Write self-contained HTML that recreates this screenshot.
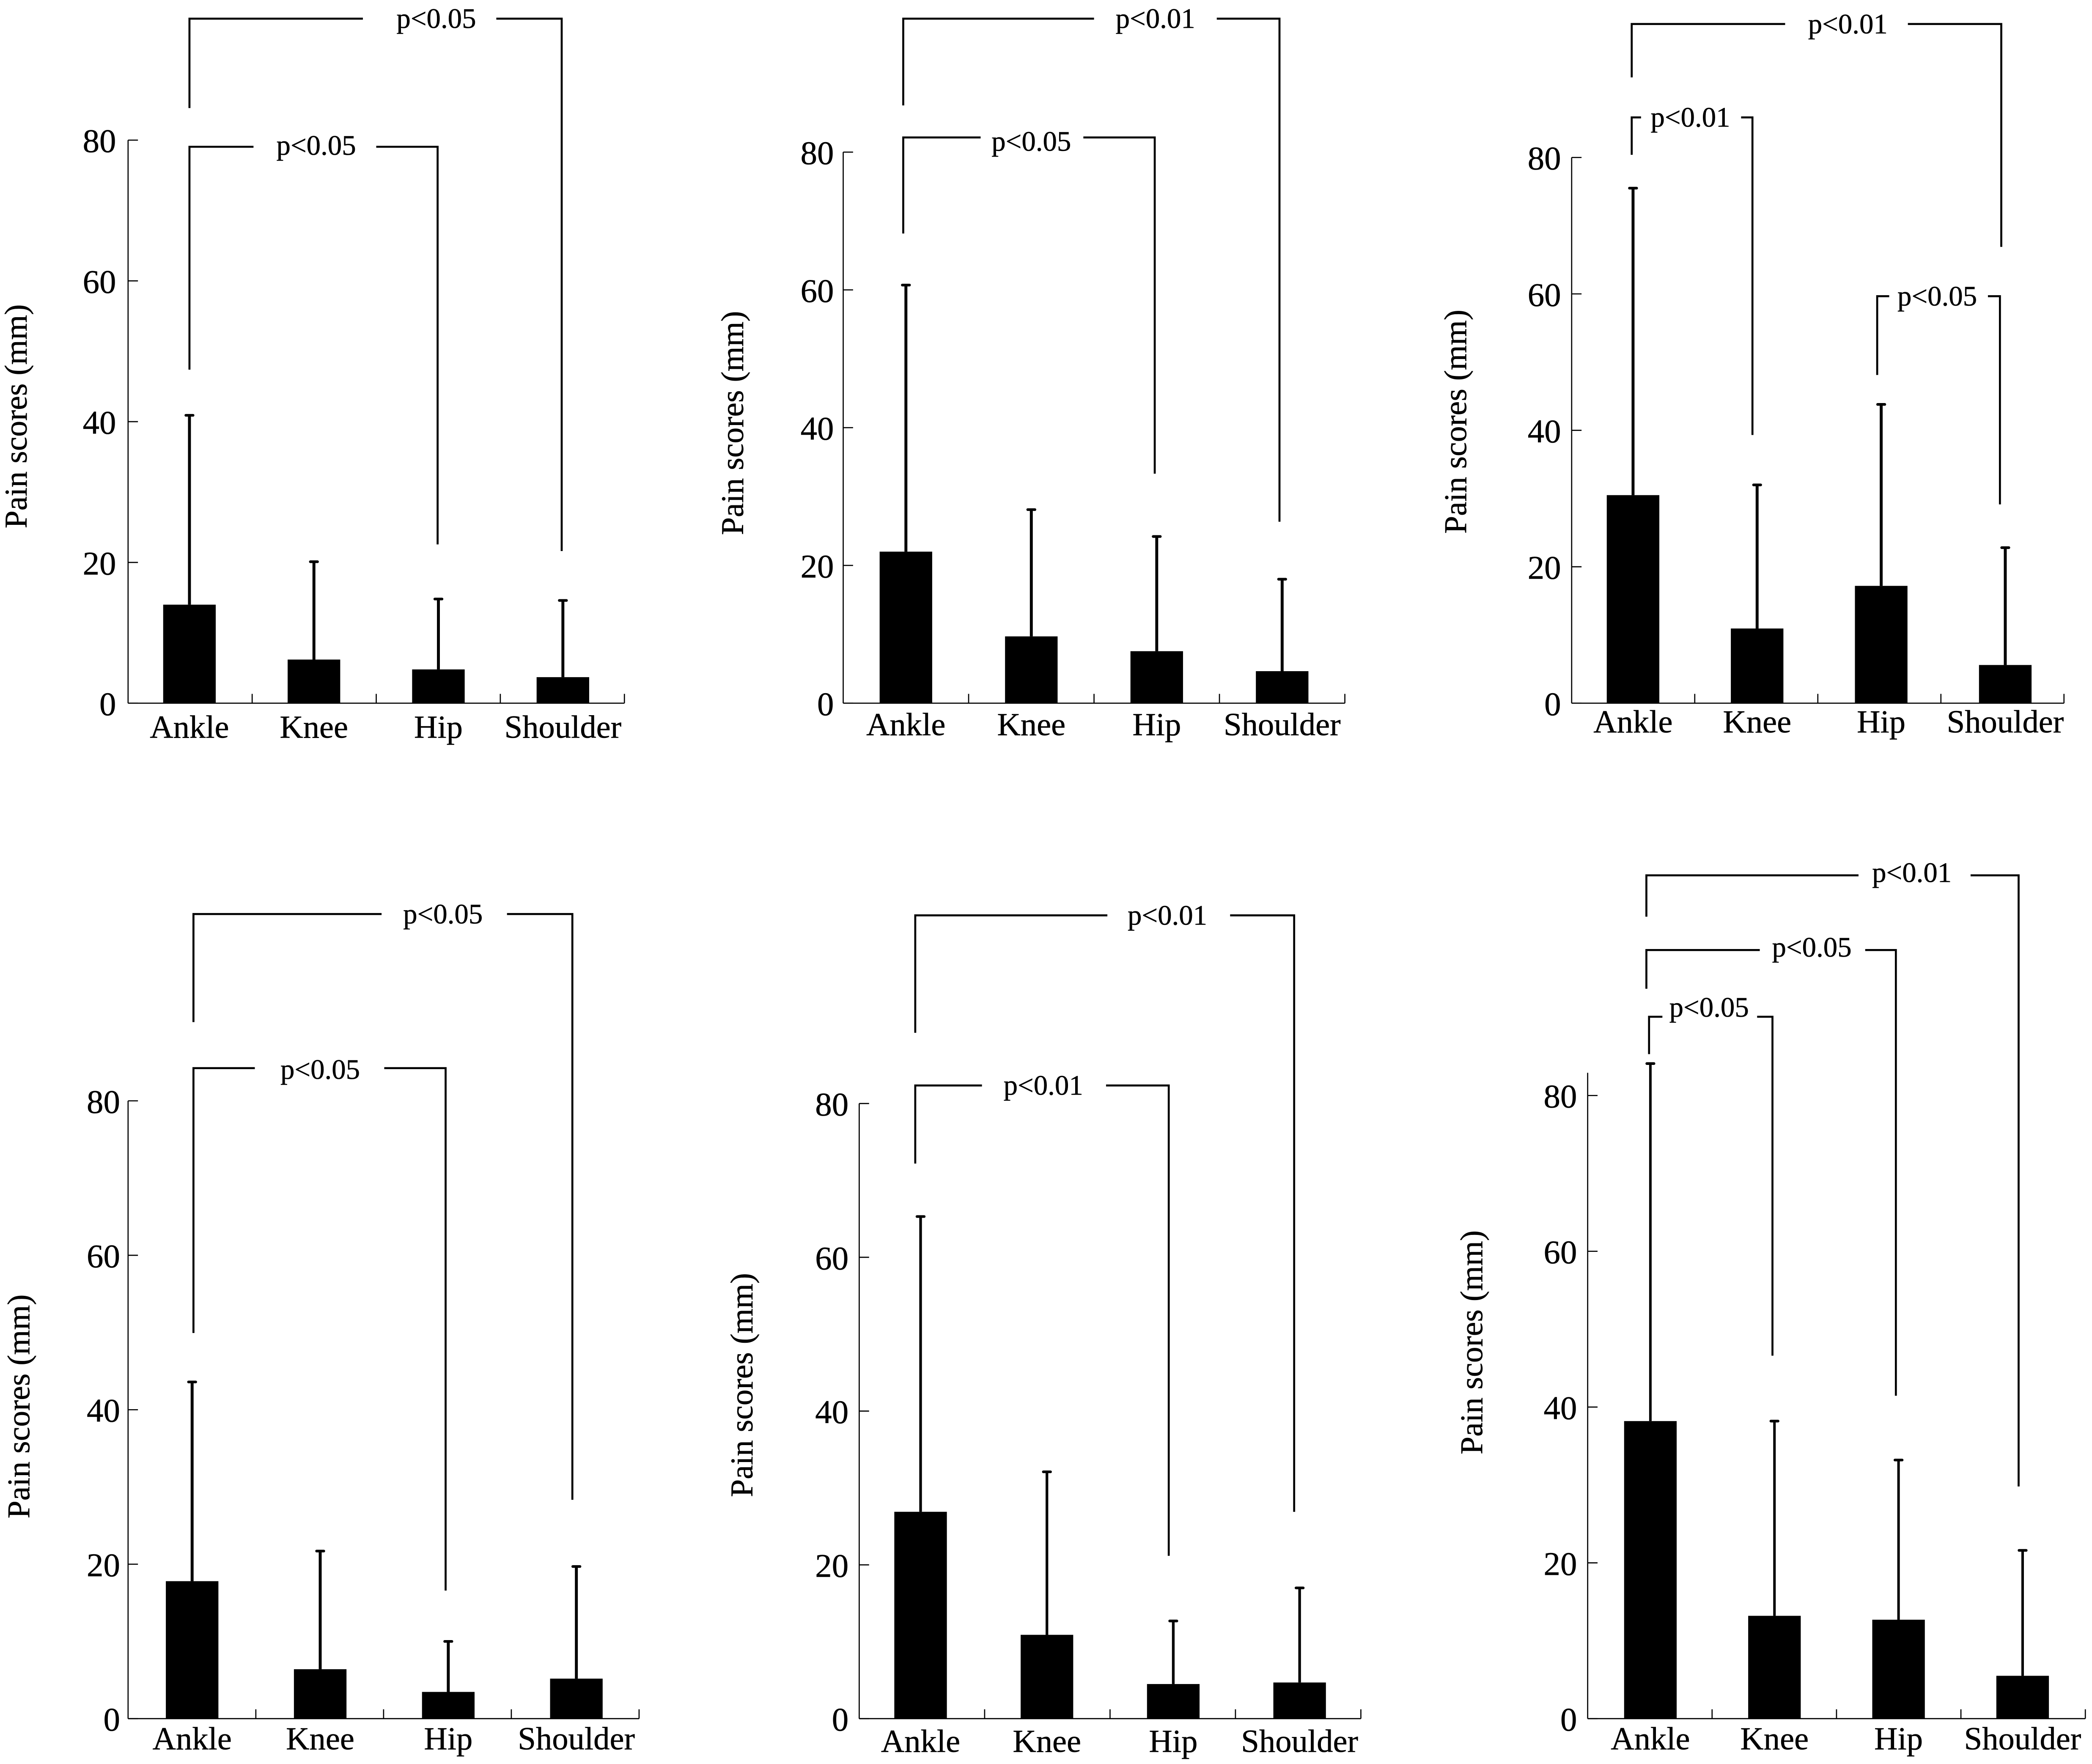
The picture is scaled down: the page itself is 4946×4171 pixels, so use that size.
<!DOCTYPE html>
<html lang="en">
<head>
<meta charset="utf-8">
<title>Pain scores by joint</title>
<style>
html,body{margin:0;padding:0;background:#fff;}
svg{display:block;}
text{font-family:"Liberation Serif",serif;fill:#000;stroke:#000;stroke-width:0.18;}
</style>
</head>
<body>
<svg id="figure" xmlns="http://www.w3.org/2000/svg" width="4946" height="4171" viewBox="0 0 1568 1322" preserveAspectRatio="none">
<rect width="1568" height="1322" fill="#fff"></rect>
</svg>
<script>
const categories = ["Ankle", "Knee", "Hip", "Shoulder"];
const yTickLabels = [0, 20, 40, 60, 80];

const panel1Means = [14.0, 6.2, 4.8, 3.7];
const panel1ErrorTops = [40.9, 20.1, 14.8, 14.6];
const panel2Means = [22.0, 9.7, 7.55, 4.65];
const panel2ErrorTops = [60.7, 28.1, 24.2, 18.0];
const panel3Means = [30.5, 10.95, 17.2, 5.6];
const panel3ErrorTops = [75.5, 32.0, 43.8, 22.8];
const panel4Means = [17.8, 6.4, 3.46, 5.18];
const panel4ErrorTops = [43.6, 21.7, 10.0, 19.7];
const panel5Means = [26.9, 10.9, 4.5, 4.7];
const panel5ErrorTops = [65.3, 32.1, 12.7, 17.0];
const panel6Means = [38.2, 13.2, 12.7, 5.5];
const panel6ErrorTops = [84.1, 38.2, 33.2, 21.6];

const panelMeans = [panel1Means, panel2Means, panel3Means, panel4Means, panel5Means, panel6Means];
const panelErrorTops = [panel1ErrorTops, panel2ErrorTops, panel3ErrorTops, panel4ErrorTops, panel5ErrorTops, panel6ErrorTops];

/* Frame of each panel: axis extents, first bar centre, and title placement */
const panelFrames = [
  {x0:96,  x1:468,  y0:527,  y80:105, top:105, first:142,  step:93.3, labelY:553,  tickRight:87,   titleX:20,   titleY:312,  stem:2.2},
  {x0:632, x1:1008, y0:527,  y80:114, top:114, first:679,  step:94,   labelY:551,  tickRight:625,  titleX:557,  titleY:317,  stem:2.2},
  {x0:1178,x1:1547, y0:527,  y80:118, top:118, first:1224, step:93,   labelY:549,  tickRight:1170, titleX:1099, titleY:316,  stem:2.2},
  {x0:96,  x1:479,  y0:1288, y80:825, top:825, first:144,  step:96,   labelY:1311, tickRight:90,   titleX:22,   titleY:1054, stem:2.2},
  {x0:644, x1:1020, y0:1288, y80:827, top:827, first:690,  step:94.7, labelY:1313, tickRight:636,  titleX:564,  titleY:1038, stem:2.0},
  {x0:1190,x1:1563, y0:1288, y80:821, top:804, first:1237, step:93,   labelY:1311, tickRight:1182, titleX:1111, titleY:1006, stem:1.9}
];

/* Significance brackets (annotation geometry, not data) */
const panelBrackets = [
  [
    {text:"p<0.05", xL:142, xR:421, y:14, bL:81, bR:413, gapL:272, gapR:372, tx:327, dy:7},
    {text:"p<0.05", xL:142, xR:328, y:110, bL:277, bR:408, gapL:190, gapR:282, tx:237, dy:6}
  ],
  [
    {text:"p<0.01", xL:677, xR:959, y:14, bL:79, bR:391, gapL:820, gapR:912, tx:866, dy:7},
    {text:"p<0.05", xL:677, xR:865.5, y:103, bL:175, bR:355, gapL:735, gapR:812, tx:773, dy:10}
  ],
  [
    {text:"p<0.01", xL:1223, xR:1500, y:18, bL:58, bR:185, gapL:1338, gapR:1430, tx:1385, dy:7},
    {text:"p<0.01", xL:1223, xR:1313.5, y:88, bL:116, bR:326, gapL:1230, gapR:1305, tx:1267, dy:7},
    {text:"p<0.05", xL:1407, xR:1499, y:222, bL:281, bR:378, gapL:1416, gapR:1490, tx:1452, dy:7}
  ],
  [
    {text:"p<0.05", xL:145, xR:429, y:685, bL:766, bR:1124, gapL:286, gapR:380, tx:332, dy:7},
    {text:"p<0.05", xL:145, xR:334, y:800.5, bL:999, bR:1192, gapL:191, gapR:288, tx:240, dy:8}
  ],
  [
    {text:"p<0.01", xL:686, xR:970, y:686, bL:774, bR:1133, gapL:830, gapR:922, tx:875, dy:7},
    {text:"p<0.01", xL:686, xR:876, y:813.5, bL:872, bR:1166, gapL:736, gapR:829, tx:782, dy:7}
  ],
  [
    {text:"p<0.01", xL:1234, xR:1513, y:656, bL:687, bR:1114, gapL:1393, gapR:1477, tx:1433, dy:5},
    {text:"p<0.05", xL:1234, xR:1421, y:712, bL:741, bR:1046, gapL:1319, gapR:1398, tx:1358, dy:5},
    {text:"p<0.05", xL:1236, xR:1328.5, y:762, bL:790, bR:1016, gapL:1246, gapR:1317, tx:1281, dy:0}
  ]
];

const SVG_NS = "http://www.w3.org/2000/svg";
const root = document.getElementById("figure");

function line(parent, x1, y1, x2, y2, width) {
  const el = document.createElementNS(SVG_NS, "line");
  el.setAttribute("x1", x1);
  el.setAttribute("y1", y1);
  el.setAttribute("x2", x2);
  el.setAttribute("y2", y2);
  el.setAttribute("stroke", "#000");
  el.setAttribute("stroke-width", width);
  parent.appendChild(el);
  return el;
}

function text(parent, content, x, y, size, anchor) {
  const el = document.createElementNS(SVG_NS, "text");
  el.setAttribute("x", x);
  el.setAttribute("y", y);
  el.setAttribute("font-size", size);
  el.setAttribute("text-anchor", anchor);
  el.textContent = content;
  parent.appendChild(el);
  return el;
}

panelFrames.forEach(function (frame, p) {
  const means = panelMeans[p];
  const errorTops = panelErrorTops[p];
  const yScale = function (v) { return frame.y0 - (frame.y0 - frame.y80) * v / 80; };
  const xScale = function (i) { return frame.first + frame.step * i; };

  const g = document.createElementNS(SVG_NS, "g");
  
  
  root.appendChild(g);

  /* y axis */
  const yAxis = line(g, frame.x0, frame.top, frame.x0, frame.y0, 0.85);
  
  

  /* x axis */
  const xAxis = line(g, frame.x0, frame.y0, frame.x1, frame.y0, 0.85);
  
  

  /* y ticks and tick labels */
  yTickLabels.forEach(function (tick) {
    const y = yScale(tick);
    const mark = line(g, frame.x0, y, frame.x0 + 7.4, y, 0.85);
    
    
    const label = text(g, String(tick), frame.tickRight, y + 9, 25, "end");
    
    
  });

  /* x ticks */
  for (let i = 1; i <= categories.length; i++) {
    const x = frame.x0 + (frame.x1 - frame.x0) * i / categories.length;
    const mark = line(g, x, frame.y0 - 7, x, frame.y0, 0.85);
    
    
  }

  /* y axis title */
  const title = text(g, "Pain scores (mm)", frame.titleX, frame.titleY, 24, "middle");
  title.setAttribute("transform", "rotate(-90 " + frame.titleX + " " + frame.titleY + ")");
  
  

  /* bars, error bars and category labels */
  categories.forEach(function (cat, i) {
    const cx = xScale(i);
    const key = cat.toLowerCase();

    const bar = document.createElementNS(SVG_NS, "rect");
    bar.setAttribute("x", cx - 19.7);
    bar.setAttribute("y", yScale(means[i]));
    bar.setAttribute("width", 39.4);
    bar.setAttribute("height", yScale(0) - yScale(means[i]));
    bar.setAttribute("fill", "#000");
    
    
    g.appendChild(bar);

    const stem = line(g, cx, yScale(means[i]), cx, yScale(errorTops[i]), frame.stem);
    
    

    const cap = line(g, cx - 2.7, yScale(errorTops[i]), cx + 2.7, yScale(errorTops[i]), 2.0);
    cap.setAttribute("stroke-linecap", "round");
    
    

    const label = text(g, cat, cx, frame.labelY, 24.3, "middle");
    
    
  });

  /* significance brackets */
  panelBrackets[p].forEach(function (b) {
    const left = document.createElementNS(SVG_NS, "path");
    left.setAttribute("d", "M" + b.xL + " " + b.bL + "V" + b.y + "H" + b.gapL);
    left.setAttribute("fill", "none");
    left.setAttribute("stroke", "#000");
    left.setAttribute("stroke-width", 1.5);
    
    
    g.appendChild(left);

    const right = document.createElementNS(SVG_NS, "path");
    right.setAttribute("d", "M" + b.gapR + " " + b.y + "H" + b.xR + "V" + b.bR);
    right.setAttribute("fill", "none");
    right.setAttribute("stroke", "#000");
    right.setAttribute("stroke-width", 1.5);
    
    
    g.appendChild(right);

    const label = text(g, b.text, b.tx, b.y + b.dy, 21.2, "middle");
    
    
  });
});
</script>
</body>
</html>
